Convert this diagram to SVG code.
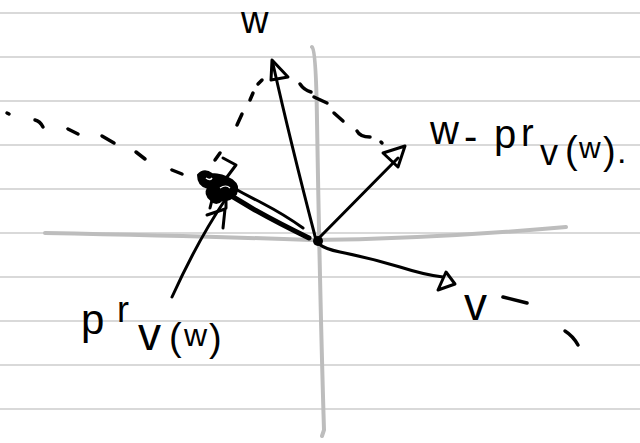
<svg xmlns="http://www.w3.org/2000/svg" width="640" height="443" viewBox="0 0 640 443">
<style>
.rule{stroke:#cccccc;stroke-width:1.5}
.axis{fill:none;stroke:#bdbdbd;stroke-width:4;stroke-linecap:round}
.ink{fill:none;stroke:#000;stroke-width:3;stroke-linecap:round;stroke-linejoin:round}
.thick{fill:none;stroke:#000;stroke-width:5;stroke-linecap:round;stroke-linejoin:round}
.dash{fill:none;stroke:#000;stroke-width:3.5;stroke-linecap:round}
.lbl{font-family:"Liberation Sans",Arial,sans-serif;fill:#000}
</style>
<rect width="640" height="443" fill="#fff"/>
<g id="paper">
<line class="rule" x1="0" y1="13" x2="640" y2="13"/>
<line class="rule" x1="0" y1="57" x2="640" y2="57"/>
<line class="rule" x1="0" y1="101" x2="640" y2="101"/>
<line class="rule" x1="0" y1="145" x2="640" y2="145"/>
<line class="rule" x1="0" y1="189" x2="640" y2="189"/>
<line class="rule" x1="0" y1="233" x2="640" y2="233"/>
<line class="rule" x1="0" y1="277" x2="640" y2="277"/>
<line class="rule" x1="0" y1="321" x2="640" y2="321"/>
<line class="rule" x1="0" y1="365" x2="640" y2="365"/>
<line class="rule" x1="0" y1="409" x2="640" y2="409"/>
</g>
<g id="axes">
<path class="axis" d="M45,233 Q200,236 312,240 Q430,239 566,227"/>
<path class="axis" d="M312,47 Q316,50 317,120 Q320,300 324,430 L322,436"/>
</g>
<g id="connectors">
<g id="v-line">
<path class="dash" d="M7,113 L9,114"/>
<path class="dash" d="M35,120 Q40,121 43,127"/>
<path class="dash" d="M68,129 L78,134"/>
<path class="dash" d="M102,136 L114,143"/>
<path class="dash" d="M136,152 L145,159"/>
<path class="dash" d="M172,170 L182,174"/>
<path class="dash" d="M503,297 L527,303"/>
<path class="dash" d="M565,331 Q573,336 578,345"/>
</g>
<g id="w-to-perp">
<path class="dash" d="M300,84 Q304,90 311,92"/>
<path class="dash" d="M314,97 L327,103"/>
<path class="dash" d="M334,113 L343,121"/>
<path class="dash" d="M357,131 Q360,137 370,137"/>
<path class="dash" d="M381,142 L382,143"/>
</g>
<g id="pr-to-w">
<path class="dash" d="M258,84 L262,80"/>
<path class="dash" d="M250,100 L253,93"/>
<path class="dash" d="M237,125 L242,114"/>
<path class="dash" d="M215,160 L220,153"/>
</g>
<path class="ink" d="M223,158 L236,165 L227,177"/>
<g id="vec-w">
<path class="ink" d="M316,240 Q290,140 273,64"/>
<path class="ink" d="M272,60 L288,77 L271,80 Z"/>
</g>
<g id="vec-perp">
<path class="ink" d="M317,240 L398,158"/>
<path class="ink" d="M383,153 L405,146 L398,167 Z"/>
</g>
<g id="vec-v">
<path class="ink" d="M319,244 Q325,249 340,252 Q370,258 400,267 Q425,275 443,277"/>
<path class="ink" d="M446,272 L455,284 L438,290 Z"/>
</g>
<g id="vec-pr">
<path class="thick" d="M309,238 Q280,224 255,210 Q235,198 218,188"/>
<path class="ink" d="M303,228 Q285,215 262,203 Q246,195 230,186"/>
<path d="M198,175 Q204,168 212,174 Q222,174 232,180 Q240,186 236,194 Q230,201 222,200 Q216,206 211,200 Q204,194 208,188 Q198,186 198,175 Z" fill="#000" stroke="#000" stroke-width="2"/>
<path d="M206,178 Q210,181 212,178" fill="none" stroke="#fff" stroke-width="1.5"/>
<path d="M220,188 Q226,184 230,188" fill="none" stroke="#fff" stroke-width="1.2"/>
<path class="ink" d="M212,200 L210,208 M226,199 L226,208"/>
</g>
<g id="pointer">
<path class="ink" d="M172,297 Q198,240 225,200"/>
<path class="ink" d="M207,215 L225,209 L223,228"/>
</g>
<circle cx="318" cy="241" r="5" fill="#000"/>
</g>
<g id="label-w"><text class="lbl" x="241" y="33" font-size="38">w</text></g>
<g id="label-perp"><text class="lbl"><tspan x="430" y="144" font-size="40">w</tspan><tspan x="464" y="150" font-size="40">-</tspan><tspan x="494" y="148" font-size="40">p</tspan><tspan x="521" y="146" font-size="38">r</tspan><tspan x="540" y="165" font-size="36">v</tspan><tspan x="565" y="163" font-size="38">(</tspan><tspan x="579" y="158" font-size="30">w</tspan><tspan x="603" y="164" font-size="38">)</tspan><tspan x="617" y="163" font-size="34">.</tspan></text></g>
<g id="label-pr"><text class="lbl"><tspan x="81" y="334" font-size="42">p</tspan><tspan x="117" y="322" font-size="36">r</tspan><tspan x="138" y="350" font-size="46">v</tspan><tspan x="169" y="350" font-size="38">(</tspan><tspan x="184" y="346" font-size="32">w</tspan><tspan x="209" y="351" font-size="38">)</tspan></text></g>
<g id="label-v"><text class="lbl" x="464" y="320" font-size="46">v</text></g>
</svg>
